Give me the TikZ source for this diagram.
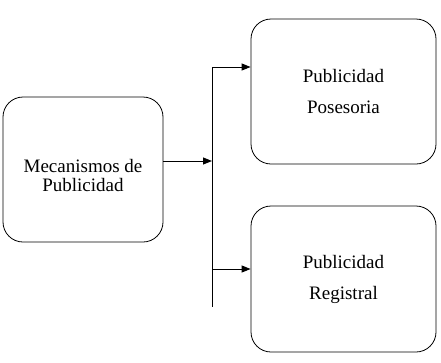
\documentclass[tikz,border=0pt]{standalone}
\usepackage{fontspec}
\setmainfont{Liberation Serif}
\usetikzlibrary{arrows.meta}

\begin{document}
\begin{tikzpicture}[x=1pt,y=-1pt,>={Triangle[length=9pt,width=7pt]},
  caja/.style={draw,line width=0.8pt,rounded corners=20pt,align=center,
    font=\fontsize{19}{19}\selectfont,inner sep=0pt},
  flecha/.style={->,line width=1pt}]
  \useasboundingbox (0,0) rectangle (441,362);
  % cajas
  \node[caja,minimum width=160pt,minimum height=145pt] (mecanismos) at (83,169.5) {\rule{0pt}{25pt}Mecanismos de\\Publicidad};
  \node[caja,minimum width=185pt,minimum height=145pt] (posesoria) at (343.5,91.5) {Publicidad\\[12pt]Posesoria};
  \node[caja,minimum width=185pt,minimum height=146pt] (registral) at (343.5,279) {Publicidad\\[12pt]Registral};
  % linea vertical de reparto
  \coordinate (sup) at (212,67);
  \coordinate (medio) at (212,161);
  \coordinate (inf) at (212,269);
  \coordinate (fin) at (212,307);
  \draw[line width=1pt] (sup) -- (fin);
  \draw[flecha] (mecanismos.east |- medio) -- (medio);
  \draw[flecha] (sup) -- (sup -| posesoria.west);
  \draw[flecha] (inf) -- (inf -| registral.west);
\end{tikzpicture}
\end{document}
